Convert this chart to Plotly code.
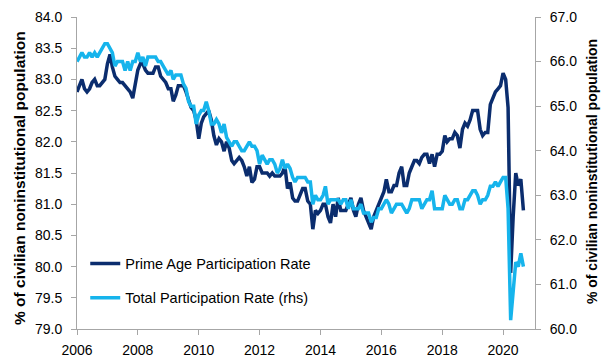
import pandas as pd
import plotly.graph_objects as go

# Monthly data, Jan 2006 - Sep 2020
start_month = "2006-01-01"

prime_age = [
    # 2006
    82.8, 82.9, 83.0, 82.85, 82.8, 82.85, 82.95, 83.0, 82.9, 82.9, 82.95, 83.0,
    # 2007
    83.25, 83.4, 83.2, 83.05, 83.0, 82.95, 82.95, 82.9, 82.85, 82.8, 82.7, 82.9,
    # 2008
    83.15, 83.25, 83.25, 83.15, 83.1, 83.1, 83.1, 83.2, 83.2, 83.05, 83.0, 82.95,
    # 2009
    82.85, 82.85, 82.65, 82.75, 82.9, 82.9, 82.9, 82.8, 82.65, 82.55, 82.5, 82.35,
    # 2010
    82.05, 82.3, 82.4, 82.45, 82.5, 82.35, 82.1, 81.95, 82.05, 82.0, 81.85, 82.0,
    # 2011
    81.9, 81.7, 81.65, 81.7, 81.75, 81.7, 81.6, 81.45, 81.6, 81.35, 81.4, 81.6,
    # 2012
    81.6, 81.5, 81.5, 81.5, 81.45, 81.5, 81.45, 81.45, 81.45, 81.5, 81.6, 81.25,
    # 2013
    81.35, 81.1, 81.05, 81.05, 81.15, 81.25, 81.25, 81.05, 81.0, 80.6, 80.9, 80.85,
    # 2014
    80.9, 81.0, 81.0, 80.8, 80.7, 81.0, 80.8, 81.1, 80.9, 80.9, 80.9, 81.0,
    # 2015
    81.1, 80.9, 80.8, 81.0, 81.1, 80.9, 80.8, 80.7, 80.6, 80.8, 80.9, 81.0,
    # 2016
    81.1, 81.2, 81.4, 81.2, 81.2, 81.3, 81.3, 81.5, 81.6, 81.3, 81.3, 81.5,
    # 2017
    81.6, 81.7, 81.7, 81.65, 81.75, 81.8, 81.8, 81.65, 81.8, 81.6, 81.8, 81.8,
    # 2018
    81.85, 82.1, 82.0, 82.05, 82.05, 82.15, 82.1, 81.9, 82.2, 82.3, 82.25, 82.35,
    # 2019
    82.5, 82.5, 82.5, 82.2, 82.1, 82.15, 82.15, 82.6, 82.7, 82.8, 82.85, 82.9,
    # 2020
    83.1, 83.0, 82.55, 79.9, 80.8, 81.5, 81.3, 81.4, 80.9,
]

total_rate = [
    # 2006
    66.0, 66.1, 66.2, 66.1, 66.1, 66.2, 66.1, 66.2, 66.1, 66.2, 66.3, 66.4,
    # 2007
    66.4, 66.3, 66.2, 65.9, 66.0, 66.0, 66.0, 65.8, 66.0, 65.8, 66.0, 66.0,
    # 2008
    66.2, 66.0, 66.1, 65.9, 66.1, 66.1, 66.1, 66.1, 66.0, 66.0, 65.9, 65.8,
    # 2009
    65.7, 65.8, 65.6, 65.7, 65.7, 65.7, 65.5, 65.4, 65.1, 65.0, 65.0, 64.6,
    # 2010
    64.8, 64.9, 64.9, 65.1, 64.9, 64.6, 64.6, 64.7, 64.6, 64.4, 64.6, 64.3,
    # 2011
    64.2, 64.1, 64.2, 64.2, 64.1, 64.0, 64.0, 64.1, 64.2, 64.1, 64.1, 64.0,
    # 2012
    63.7, 63.9, 63.8, 63.7, 63.8, 63.8, 63.7, 63.5, 63.6, 63.8, 63.6, 63.7,
    # 2013
    63.6, 63.4, 63.3, 63.4, 63.4, 63.4, 63.4, 63.3, 63.3, 62.8, 63.0, 62.9,
    # 2014
    62.9, 63.0, 63.2, 62.8, 62.9, 62.9, 62.9, 62.9, 62.8, 62.9, 62.9, 62.7,
    # 2015
    62.9, 62.7, 62.7, 62.7, 62.8, 62.6, 62.6, 62.6, 62.4, 62.5, 62.5, 62.7,
    # 2016
    62.7, 62.8, 62.9, 62.8, 62.6, 62.7, 62.8, 62.8, 62.8, 62.7, 62.6, 62.7,
    # 2017
    62.9, 62.9, 62.9, 62.9, 62.7, 62.8, 62.9, 62.9, 63.1, 62.7, 62.7, 62.7,
    # 2018
    62.7, 63.0, 62.9, 62.8, 62.8, 62.9, 62.9, 62.7, 62.7, 62.9, 62.9, 63.0,
    # 2019
    63.1, 63.1, 63.0, 62.8, 62.9, 62.9, 63.0, 63.2, 63.2, 63.3, 63.2, 63.3,
    # 2020
    63.4, 63.4, 62.7, 60.2, 60.8, 61.5, 61.4, 61.7, 61.4,
]

dates = pd.date_range(start_month, periods=len(prime_age), freq="MS")

DARK = "#0b2d6e"
LIGHT = "#16b4ec"
AXIS = "#a6a6a6"
FONT = "Liberation Sans, Arial, sans-serif"
y_title = "% of civilian noninstitutional population"

fig = go.Figure()
fig.add_trace(go.Scatter(
    x=dates, y=total_rate, mode="lines", name="Total Participation Rate (rhs)",
    line=dict(color=LIGHT, width=3.5), yaxis="y2", legend="legend2",
    showlegend=True,
))
fig.add_trace(go.Scatter(
    x=dates, y=prime_age, mode="lines", name="Prime Age Participation Rate",
    line=dict(color=DARK, width=3.5), yaxis="y", legend="legend",
    showlegend=True,
))

axis_common = dict(
    showline=True, linecolor=AXIS, linewidth=1, ticks="outside", ticklen=5,
    tickcolor=AXIS, showgrid=False, zeroline=False, automargin=False,
    tickfont=dict(family=FONT, size=14, color="black"),
)

# page body has an 8px default margin: figure is 601x356 placed at (8, 8)
fig.update_layout(
    width=601, height=356,
    margin=dict(l=69, r=74, t=9, b=35, autoexpand=False),
    paper_bgcolor="white", plot_bgcolor="white",
    font=dict(family=FONT, size=14, color="black"),
    showlegend=True,
    xaxis=dict(
        type="date", range=["2006-01-01", "2021-01-18"],
        tick0="2006-01-01", dtick="M24", tickformat="%Y",
        ticklabelstandoff=3,
        **axis_common,
    ),
    yaxis=dict(range=[79, 84], dtick=0.5, tickformat=".1f",
               ticklabelstandoff=6, **axis_common),
    yaxis2=dict(range=[60, 67], dtick=1, tickformat=".1f", overlaying="y",
                side="right", ticklabelstandoff=6, **axis_common),
    legend=dict(x=0.018, y=0.21, xanchor="left", yanchor="middle",
                bgcolor="rgba(0,0,0,0)", font=dict(family=FONT, size=14.5)),
    legend2=dict(x=0.018, y=0.1, xanchor="left", yanchor="middle",
                 bgcolor="rgba(0,0,0,0)", font=dict(family=FONT, size=14.5)),
    annotations=[
        dict(text="<b>" + y_title + "</b>", xref="paper", yref="paper",
             x=-0.1245, y=0.484, xanchor="center", yanchor="middle",
             textangle=-90, showarrow=False,
             font=dict(family=FONT, size=15.5, color="black")),
        dict(text="<b>" + y_title + "</b>", xref="paper", yref="paper",
             x=1.1245, y=0.503, xanchor="center", yanchor="middle",
             textangle=-90, showarrow=False,
             font=dict(family=FONT, size=14, color="black")),
    ],
)

fig.write_html("out.html")
